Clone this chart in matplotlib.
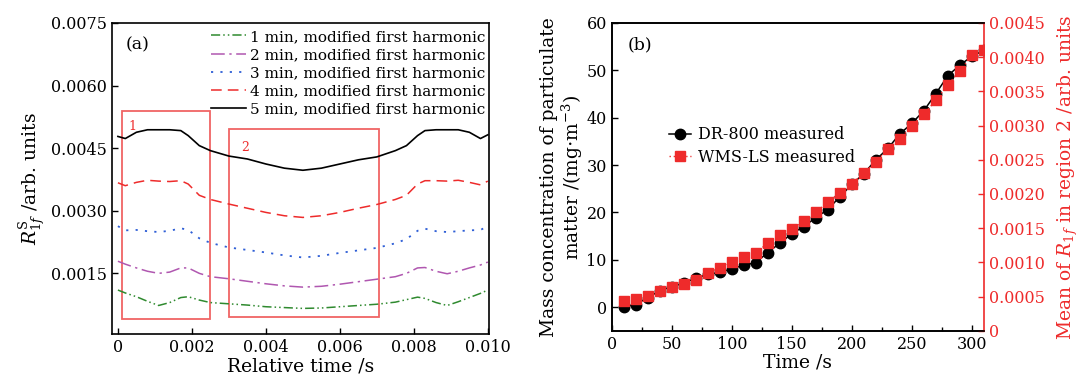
import numpy as np
import matplotlib
matplotlib.use("Agg")
import matplotlib.pyplot as plt
from matplotlib.patches import Rectangle

plt.rcParams['font.family'] = ['DejaVu Serif']
plt.rcParams['mathtext.fontset'] = 'dejavuserif'

# === (a) modified first harmonic, relative time grid ===
t_rel = [0, 0.0002, 0.0005, 0.0008, 0.0011, 0.0014, 0.0017, 0.0019, 0.0022, 0.0025,
         0.003, 0.0035, 0.004, 0.0045, 0.005, 0.0055, 0.006, 0.0065, 0.007, 0.0075,
         0.0078, 0.0081, 0.0083, 0.0086, 0.0089, 0.0092, 0.0095, 0.0098, 0.01]

r_1min = [0.00110, 0.00103, 0.00094, 0.00083, 0.00073, 0.00080, 0.00092, 0.00094, 0.00086, 0.00080,
          0.00077, 0.00074, 0.00070, 0.00068, 0.00066, 0.00067, 0.00070, 0.00073, 0.00076, 0.00081,
          0.00087, 0.00093, 0.00090, 0.00080, 0.00073, 0.00082, 0.00092, 0.00102, 0.00110]
r_2min = [0.00179, 0.00172, 0.00163, 0.00155, 0.00150, 0.00153, 0.00163, 0.00163, 0.00150, 0.00142,
          0.00137, 0.00131, 0.00125, 0.00120, 0.00117, 0.00119, 0.00124, 0.00130, 0.00136, 0.00142,
          0.00150, 0.00163, 0.00164, 0.00155, 0.00149, 0.00155, 0.00163, 0.00170, 0.00177]
r_3min = [0.00263, 0.00253, 0.00254, 0.00251, 0.00249, 0.00252, 0.00258, 0.00254, 0.00234, 0.00223,
          0.00212, 0.00206, 0.00200, 0.00193, 0.00188, 0.00192, 0.00199, 0.00205, 0.00211, 0.00222,
          0.00232, 0.00252, 0.00257, 0.00251, 0.00249, 0.00251, 0.00253, 0.00254, 0.00263]
r_4min = [0.00367, 0.00360, 0.00368, 0.00373, 0.00371, 0.00370, 0.00372, 0.00364, 0.00337, 0.00327,
          0.00316, 0.00306, 0.00296, 0.00288, 0.00284, 0.00288, 0.00296, 0.00306, 0.00315, 0.00327,
          0.00337, 0.00364, 0.00372, 0.00372, 0.00371, 0.00373, 0.00368, 0.00362, 0.00371]
r_5min = [0.00478, 0.00473, 0.00488, 0.00494, 0.00494, 0.00494, 0.00492, 0.00480, 0.00456, 0.00444,
          0.00431, 0.00424, 0.00412, 0.00402, 0.00397, 0.00402, 0.00412, 0.00422, 0.00429, 0.00444,
          0.00456, 0.00480, 0.00492, 0.00494, 0.00494, 0.00494, 0.00488, 0.00473, 0.00482]

# === (b) measured concentration vs. mean R1f in region 2 ===
t_meas = list(range(10, 320, 10))
dr800 = [0.1, 0.5, 2.0, 3.4, 4.3, 5.0, 6.1, 6.9, 7.3, 8.1,
         8.8, 9.4, 11.5, 13.5, 15.5, 17.0, 18.9, 20.6, 23.3, 25.9,
         28.2, 31.1, 33.5, 36.6, 38.8, 41.5, 45.1, 48.9, 51.1, 53.0, 54.2]
wms_ls = [0.000428, 0.000462, 0.00051, 0.000574, 0.000632, 0.00069, 0.000739, 0.00084, 0.000924, 0.00101,
          0.00108, 0.00114, 0.00128, 0.0014, 0.00149, 0.0016, 0.00173, 0.00188, 0.00202, 0.00215,
          0.00231, 0.00247, 0.00266, 0.0028, 0.003, 0.00317, 0.00337, 0.0036, 0.0038, 0.00403, 0.00411]

RED = '#ee2b2b'
BOX = '#f06464'
LBL = 13.5

fig = plt.figure(figsize=(10.82, 3.82), dpi=100)
ax1 = fig.add_axes([0.1035, 0.126, 0.3484, 0.814])
ax2 = fig.add_axes([0.5653, 0.1343, 0.3441, 0.8055])

# --- panel (a) ---
ax1.plot(t_rel, r_1min, color='#2f8a2f', lw=1.1, ls=(0, (6, 2, 1, 2, 1, 2)),
         label='1 min, modified first harmonic')
ax1.plot(t_rel, r_2min, color='#b057b0', lw=1.1, ls=(0, (9, 3, 1.5, 3)),
         label='2 min, modified first harmonic')
ax1.plot(t_rel, r_3min, color='#2f5fd6', lw=1.3, ls=(0, (1.2, 4)),
         label='3 min, modified first harmonic')
ax1.plot(t_rel, r_4min, color=RED, lw=1.1, ls=(0, (7, 4)),
         label='4 min, modified first harmonic')
ax1.plot(t_rel, r_5min, color='black', lw=1.2,
         label='5 min, modified first harmonic')

ax1.add_patch(Rectangle((0.000116, 0.000416), 0.00249 - 0.000116, 0.00538 - 0.000416,
                        fill=False, ec=BOX, lw=1.3))
ax1.add_patch(Rectangle((0.00301, 0.000464), 0.00706 - 0.00301, 0.00496 - 0.000464,
                        fill=False, ec=BOX, lw=1.3))
ax1.text(0.0004, 0.00502, '1', color=RED, fontsize=9, ha='center', va='center')
ax1.text(0.00343, 0.00452, '2', color=RED, fontsize=9, ha='center', va='center')

ax1.set_xlim(-0.00016, 0.01003)
ax1.set_ylim(0.00005, 0.0075)
ax1.set_xticks([0, 0.002, 0.004, 0.006, 0.008, 0.010])
ax1.set_xticklabels(['0', '0.002', '0.004', '0.006', '0.008', '0.010'])
ax1.set_yticks([0.0015, 0.0030, 0.0045, 0.0060, 0.0075])
ax1.set_yticklabels(['0.0015', '0.0030', '0.0045', '0.0060', '0.0075'])
ax1.tick_params(direction='in', labelsize=11.5, length=4, width=1)
ax1.set_xlabel('Relative time /s', fontsize=LBL, labelpad=1)
ax1.set_ylabel(r'$R^{\rm S}_{1f}$ /arb. units', fontsize=LBL, labelpad=3)
ax1.text(0.035, 0.93, '(a)', transform=ax1.transAxes, fontsize=12.5, va='center')
ax1.legend(loc='upper right', bbox_to_anchor=(1.005, 0.995), frameon=False, fontsize=11,
           handlelength=2.3, handletextpad=0.25, labelspacing=0.27, borderaxespad=0.15,
           borderpad=0.2)
for s in ax1.spines.values():
    s.set_linewidth(1.2)

# --- panel (b) ---
l1, = ax2.plot(t_meas, dr800, color='black', lw=1.1, marker='o', ms=7.5,
               label='DR-800 measured')
ax2.set_xlim(0, 310)
ax2.set_ylim(-5, 60)
ax2.set_xticks(range(0, 301, 50))
ax2.set_xticks(range(25, 310, 50), minor=True)
ax2.set_yticks(range(0, 61, 10))
ax2.tick_params(direction='in', labelsize=11.5, length=4, width=1)
ax2.tick_params(which='minor', direction='in', length=3, width=1)
ax2.set_xlabel('Time /s', fontsize=LBL, labelpad=1)
ax2.set_ylabel('Mass concentration of particulate\nmatter /(mg$\\cdot$m$^{-3}$)',
               fontsize=LBL, labelpad=1, linespacing=1.1)
ax2.text(0.044, 0.93, '(b)', transform=ax2.transAxes, fontsize=12.5, va='center')

ax3 = ax2.twinx()
l2, = ax3.plot(t_meas, wms_ls, color=RED, lw=1.0, ls=(0, (1, 2)), marker='s', ms=7,
               label='WMS-LS measured')
ax3.set_ylim(0, 0.0045)
ax3.set_yticks(np.arange(0, 0.00451, 0.0005))
ax3.set_yticklabels(['0'] + ['%.4f' % v for v in np.arange(0.0005, 0.00451, 0.0005)])
ax3.tick_params(direction='in', labelsize=11.5, length=4, width=1, colors=RED)
ax3.set_ylabel(r'Mean of $R_{1f}$ in region 2 /arb. units', fontsize=LBL, color=RED,
               labelpad=8)
ax3.spines['right'].set_color(RED)
for s in ax3.spines.values():
    s.set_linewidth(1.2)
for s in ax2.spines.values():
    s.set_linewidth(1.2)
ax2.spines['right'].set_visible(False)

ax3.legend([l1, l2], ['DR-800 measured', 'WMS-LS measured'], loc='center left',
           bbox_to_anchor=(0.115, 0.60), frameon=False, fontsize=11.5,
           handlelength=1.4, handletextpad=0.45, labelspacing=0.35)

fig.savefig('out.png', dpi=100)
